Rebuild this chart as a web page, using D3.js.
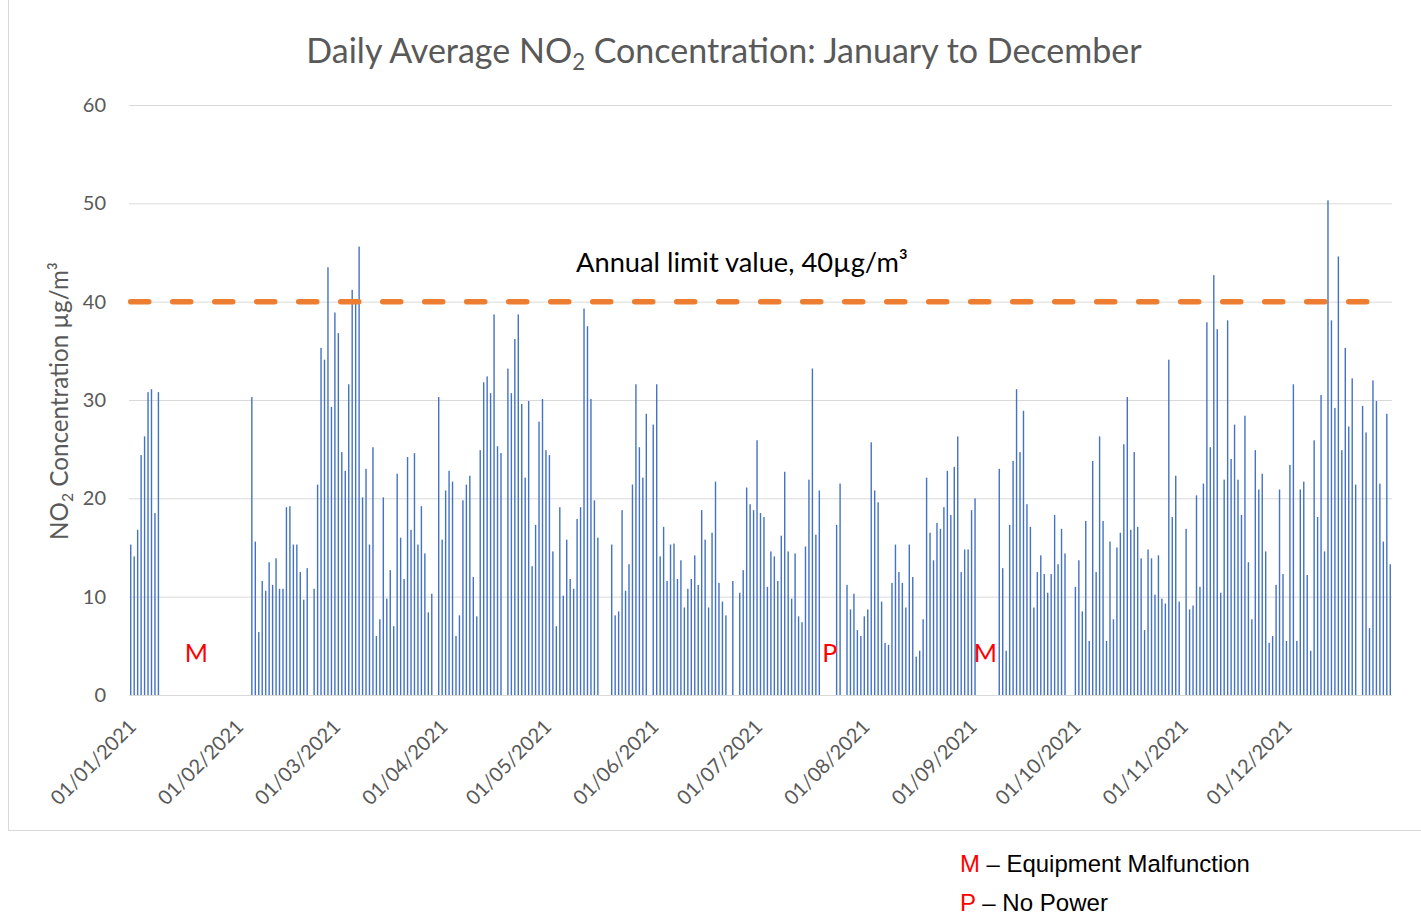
<!DOCTYPE html>
<html>
<head>
<meta charset="utf-8">
<script src="https://cdn.jsdelivr.net/npm/d3@7"></script>
<style>
  body { margin: 0; background: #fff; }
  svg { display: block; }
</style>
</head>
<body>
<svg id="chart" width="1421" height="916"></svg>
<script>
// Daily average NO2 (µg/m3), one array per month, null = no reading
const jan = [15.3, 14.1, 16.8, 24.4, 26.3, 30.8, 31.1, 18.5, 30.8, null,
  null, null, null, null, null, null, null, null, null, null,
  null, null, null, null, null, null, null, null, null, null,
  null];
const feb = [null, null, null, null, 30.3, 15.6, 6.4, 11.6, 10.6, 13.5,
  11.2, 13.9, 10.8, 10.8, 19.1, 19.2, 15.3, 15.3, 12.5, 9.7,
  12.9, null, 10.8, 21.4, 35.3, 34.1, 43.5, 29.3];
const mar = [38.9, 36.8, 24.7, 22.8, 31.6, 41.2, 39.8, 45.6, 20.1, 23.0,
  15.3, 25.2, 6.0, 7.7, 20.1, 9.8, 12.7, 7.0, 22.5, 16.0,
  11.8, 24.2, 16.8, 24.6, 15.3, 19.2, 14.4, 8.4, 10.3, null,
  30.3];
const apr = [15.8, 20.8, 22.8, 21.7, 6.0, 8.1, 19.8, 21.4, 22.3, 12.0,
  8.0, 24.9, 31.8, 32.4, 30.7, 38.7, 25.3, 24.6, null, 33.2,
  30.7, 36.2, 38.7, 29.6, 22.1, 29.9, 13.1, 17.3, 27.8, 30.1];
const may = [24.9, 24.4, 14.6, 7.0, 19.1, 10.1, 15.8, 11.8, 10.8, 17.9,
  19.1, 39.3, 37.5, 30.1, 19.8, 16.0, null, null, null, 15.3,
  8.1, 8.5, 18.8, 10.6, 13.3, 21.4, 31.6, 25.2, 22.1, 28.6,
  null];
const jun = [27.5, 31.6, 14.1, 17.1, 11.6, 15.3, 15.4, 11.8, 13.7, 8.9,
  10.8, 11.8, 14.2, 11.2, 18.8, 15.8, 8.9, 16.5, 21.7, 11.4,
  9.5, 8.1, null, 11.6, null, 10.4, 12.7, 21.1, 19.4, 18.8];
const jul = [25.9, 18.5, 18.1, 11.0, 14.6, 14.1, 11.6, 16.2, 22.7, 14.6,
  9.8, 14.4, 8.0, 7.4, 15.1, 21.9, 33.2, 16.3, 20.8, null,
  null, null, null, 17.3, 21.5, null, 11.2, 8.7, 10.3, 6.6,
  6.0];
const aug = [8.0, 8.7, 25.7, 20.8, 19.6, 9.5, 5.3, 5.1, 11.4, 15.3,
  12.5, 11.4, 8.9, 15.3, 12.0, 3.9, 4.5, 7.7, 22.1, 16.5,
  13.7, 17.5, 16.9, 19.1, 22.8, 18.3, 23.2, 26.3, 12.5, 14.8,
  14.8];
const sep = [18.8, 20.0, null, null, null, null, null, null, 23.0, 12.9,
  4.5, 17.3, 23.8, 31.1, 24.7, 28.9, 19.4, 17.1, 8.9, 12.5,
  14.2, 12.3, 10.4, 12.3, 18.3, 13.3, 16.9, 14.4, null, null];
const oct = [11.0, 13.7, 8.5, 17.7, 5.5, 23.8, 12.5, 26.3, 17.7, 5.5,
  15.6, 7.7, 15.0, 16.5, 25.5, 30.3, 16.8, 24.7, 17.1, 13.9,
  6.6, 14.8, 13.9, 10.2, 14.2, 9.8, 9.3, 34.1, 18.1, 22.3,
  9.5];
const nov = [null, 16.9, 8.7, 9.1, 20.3, 11.0, 21.5, 37.9, 25.2, 42.7,
  37.2, 10.4, 21.9, 38.1, 24.0, 27.5, 21.9, 18.3, 28.4, 13.5,
  7.7, 24.9, 20.9, 22.5, 14.6, 5.3, 6.0, 11.2, 20.9, 12.3];
const dec = [5.5, 23.4, 31.6, 5.5, 20.9, 21.7, 12.2, 4.5, 25.9, 18.1,
  30.5, 14.6, 50.3, 38.1, 29.2, 44.6, 24.9, 35.3, 27.3, 32.2,
  21.4, null, 29.4, 26.7, 6.8, 32.0, 29.9, 21.5, 15.6, 28.6,
  13.3];

const yTicks = [0, 10, 20, 30, 40, 50, 60];
const limitValue = 40;
// gap markers written on the chart
const notes = [
  { date: new Date(2021, 0, 20), label: "M" },
  { date: new Date(2021, 6, 22), label: "P" },
  { date: new Date(2021, 8, 5), label: "M" }
];
const legendItems = [
  { key: "M", text: " \u2013 Equipment Malfunction" },
  { key: "P", text: " \u2013 No Power" }
];

const start = new Date(2021, 0, 1);
const end = new Date(2022, 0, 1);
const days = d3.timeDay.range(start, end);
const values = [jan, feb, mar, apr, may, jun, jul, aug, sep, oct, nov, dec].flat();
const data = days.map((d, i) => ({ date: d, value: values[i] })).filter((d) => d.value != null);

const font = "Lato, 'Open Sans', sans-serif";
const grey = "#595959";
const plot = { left: 129, right: 1392, top: 105, bottom: 695 };

const svg = d3.select("#chart");

// stretch a text element's font size so it spans the given width
function fitWidth(sel, target) {
  const w = sel.node().getBBox().width;
  const fs = parseFloat(sel.attr("font-size"));
  sel.attr("font-size", (fs * target) / w);
}

// chart frame
svg.append("rect")
  .attr("x", 8.5).attr("y", -5)
  .attr("width", 1420).attr("height", 835.5)
  .attr("fill", "none").attr("stroke", "#d9d9d9");

const x = d3.scaleTime().domain([start, end]).range([plot.left, plot.right]);
const y = d3.scaleLinear().domain([0, 60]).range([plot.bottom, plot.top]);
const step = x(d3.timeDay.offset(start, 1)) - x(start);
const barWidth = 1.4;

// y axis + gridlines
const gy = svg.append("g")
  .attr("transform", `translate(${plot.left},0)`)
  .call(d3.axisLeft(y).tickValues(yTicks).tickSize(-(plot.right - plot.left)).tickPadding(23));
gy.select(".domain").remove();
gy.selectAll(".tick line").attr("stroke", "#d9d9d9").attr("stroke-width", 1);
gy.selectAll(".tick text")
  .attr("fill", grey).attr("font-family", font).attr("font-size", 20);

// x axis: month starts
const gx = svg.append("g")
  .attr("transform", `translate(0,${plot.bottom})`)
  .call(d3.axisBottom(x)
    .tickValues(d3.timeMonth.range(start, end))
    .tickFormat(d3.timeFormat("%d/%m/%Y"))
    .tickSize(0));
gx.select(".domain").remove();
gx.selectAll(".tick text")
  .attr("x", 0).attr("y", 0).attr("dy", "0.35em")
  .attr("text-anchor", "end")
  .attr("transform", "translate(3,28) rotate(-45)")
  .attr("fill", grey).attr("font-family", font).attr("font-size", 20);

// daily bars
svg.append("g")
  .selectAll("rect")
  .data(data)
  .join("rect")
  .attr("x", (d) => x(d.date) + (step - barWidth) / 2)
  .attr("y", (d) => y(d.value))
  .attr("width", barWidth)
  .attr("height", (d) => y(0) - y(d.value))
  .attr("fill", "#4472C4");

// annual limit line
svg.append("line")
  .attr("x1", x(start) + step / 2)
  .attr("x2", x(d3.timeDay.offset(end, -1)) + step / 2)
  .attr("y1", y(limitValue)).attr("y2", y(limitValue))
  .attr("stroke", "#ED7D31").attr("stroke-width", 5.5)
  .attr("stroke-dasharray", "18,24").attr("stroke-linecap", "round");

const limitLabel = svg.append("text")
  .attr("x", 742).attr("y", 272)
  .attr("text-anchor", "middle")
  .attr("font-family", font).attr("font-size", 24).attr("fill", "#000")
  .text(`Annual limit value, ${limitValue}\u00b5g/m\u00b3`);
fitWidth(limitLabel, 332);

// gap markers
svg.append("g")
  .selectAll("text")
  .data(notes)
  .join("text")
  .attr("x", (d) => x(d.date) + step / 2)
  .attr("y", y(3.4))
  .attr("text-anchor", "middle")
  .attr("font-family", font).attr("font-size", 25)
  .attr("fill", "#FF0000")
  .text((d) => d.label);

// title
const title = svg.append("text")
  .attr("x", 724).attr("y", 63)
  .attr("text-anchor", "middle")
  .attr("font-family", font).attr("font-size", 32).attr("fill", grey);
title.append("tspan").text("Daily Average NO");
title.append("tspan").attr("font-size", "65%").attr("dy", "0.3em").text("2");
title.append("tspan").attr("dy", "-0.2em").text(" Concentration: January to December");
fitWidth(title, 836);

// y axis title
const yTitle = svg.append("text")
  .attr("transform", "translate(68,401) rotate(-90)")
  .attr("text-anchor", "middle")
  .attr("font-family", font).attr("font-size", 22).attr("fill", grey);
yTitle.append("tspan").text("NO");
yTitle.append("tspan").attr("font-size", "65%").attr("dy", "0.3em").text("2");
yTitle.append("tspan").attr("dy", "-0.2em").text(" Concentration \u00b5g/m\u00b3");
fitWidth(yTitle, 278);

// notes legend below the chart
const legendWidths = [290, 148];
legendItems.forEach((item, i) => {
  const t = svg.append("text")
    .attr("x", 960).attr("y", 872 + i * 39)
    .attr("font-family", "'Liberation Sans', Arial, sans-serif")
    .attr("font-size", 24).attr("fill", "#000");
  t.append("tspan").attr("fill", "#FF0000").text(item.key);
  t.append("tspan").text(item.text);
  fitWidth(t, legendWidths[i]);
});
</script>
</body>
</html>
